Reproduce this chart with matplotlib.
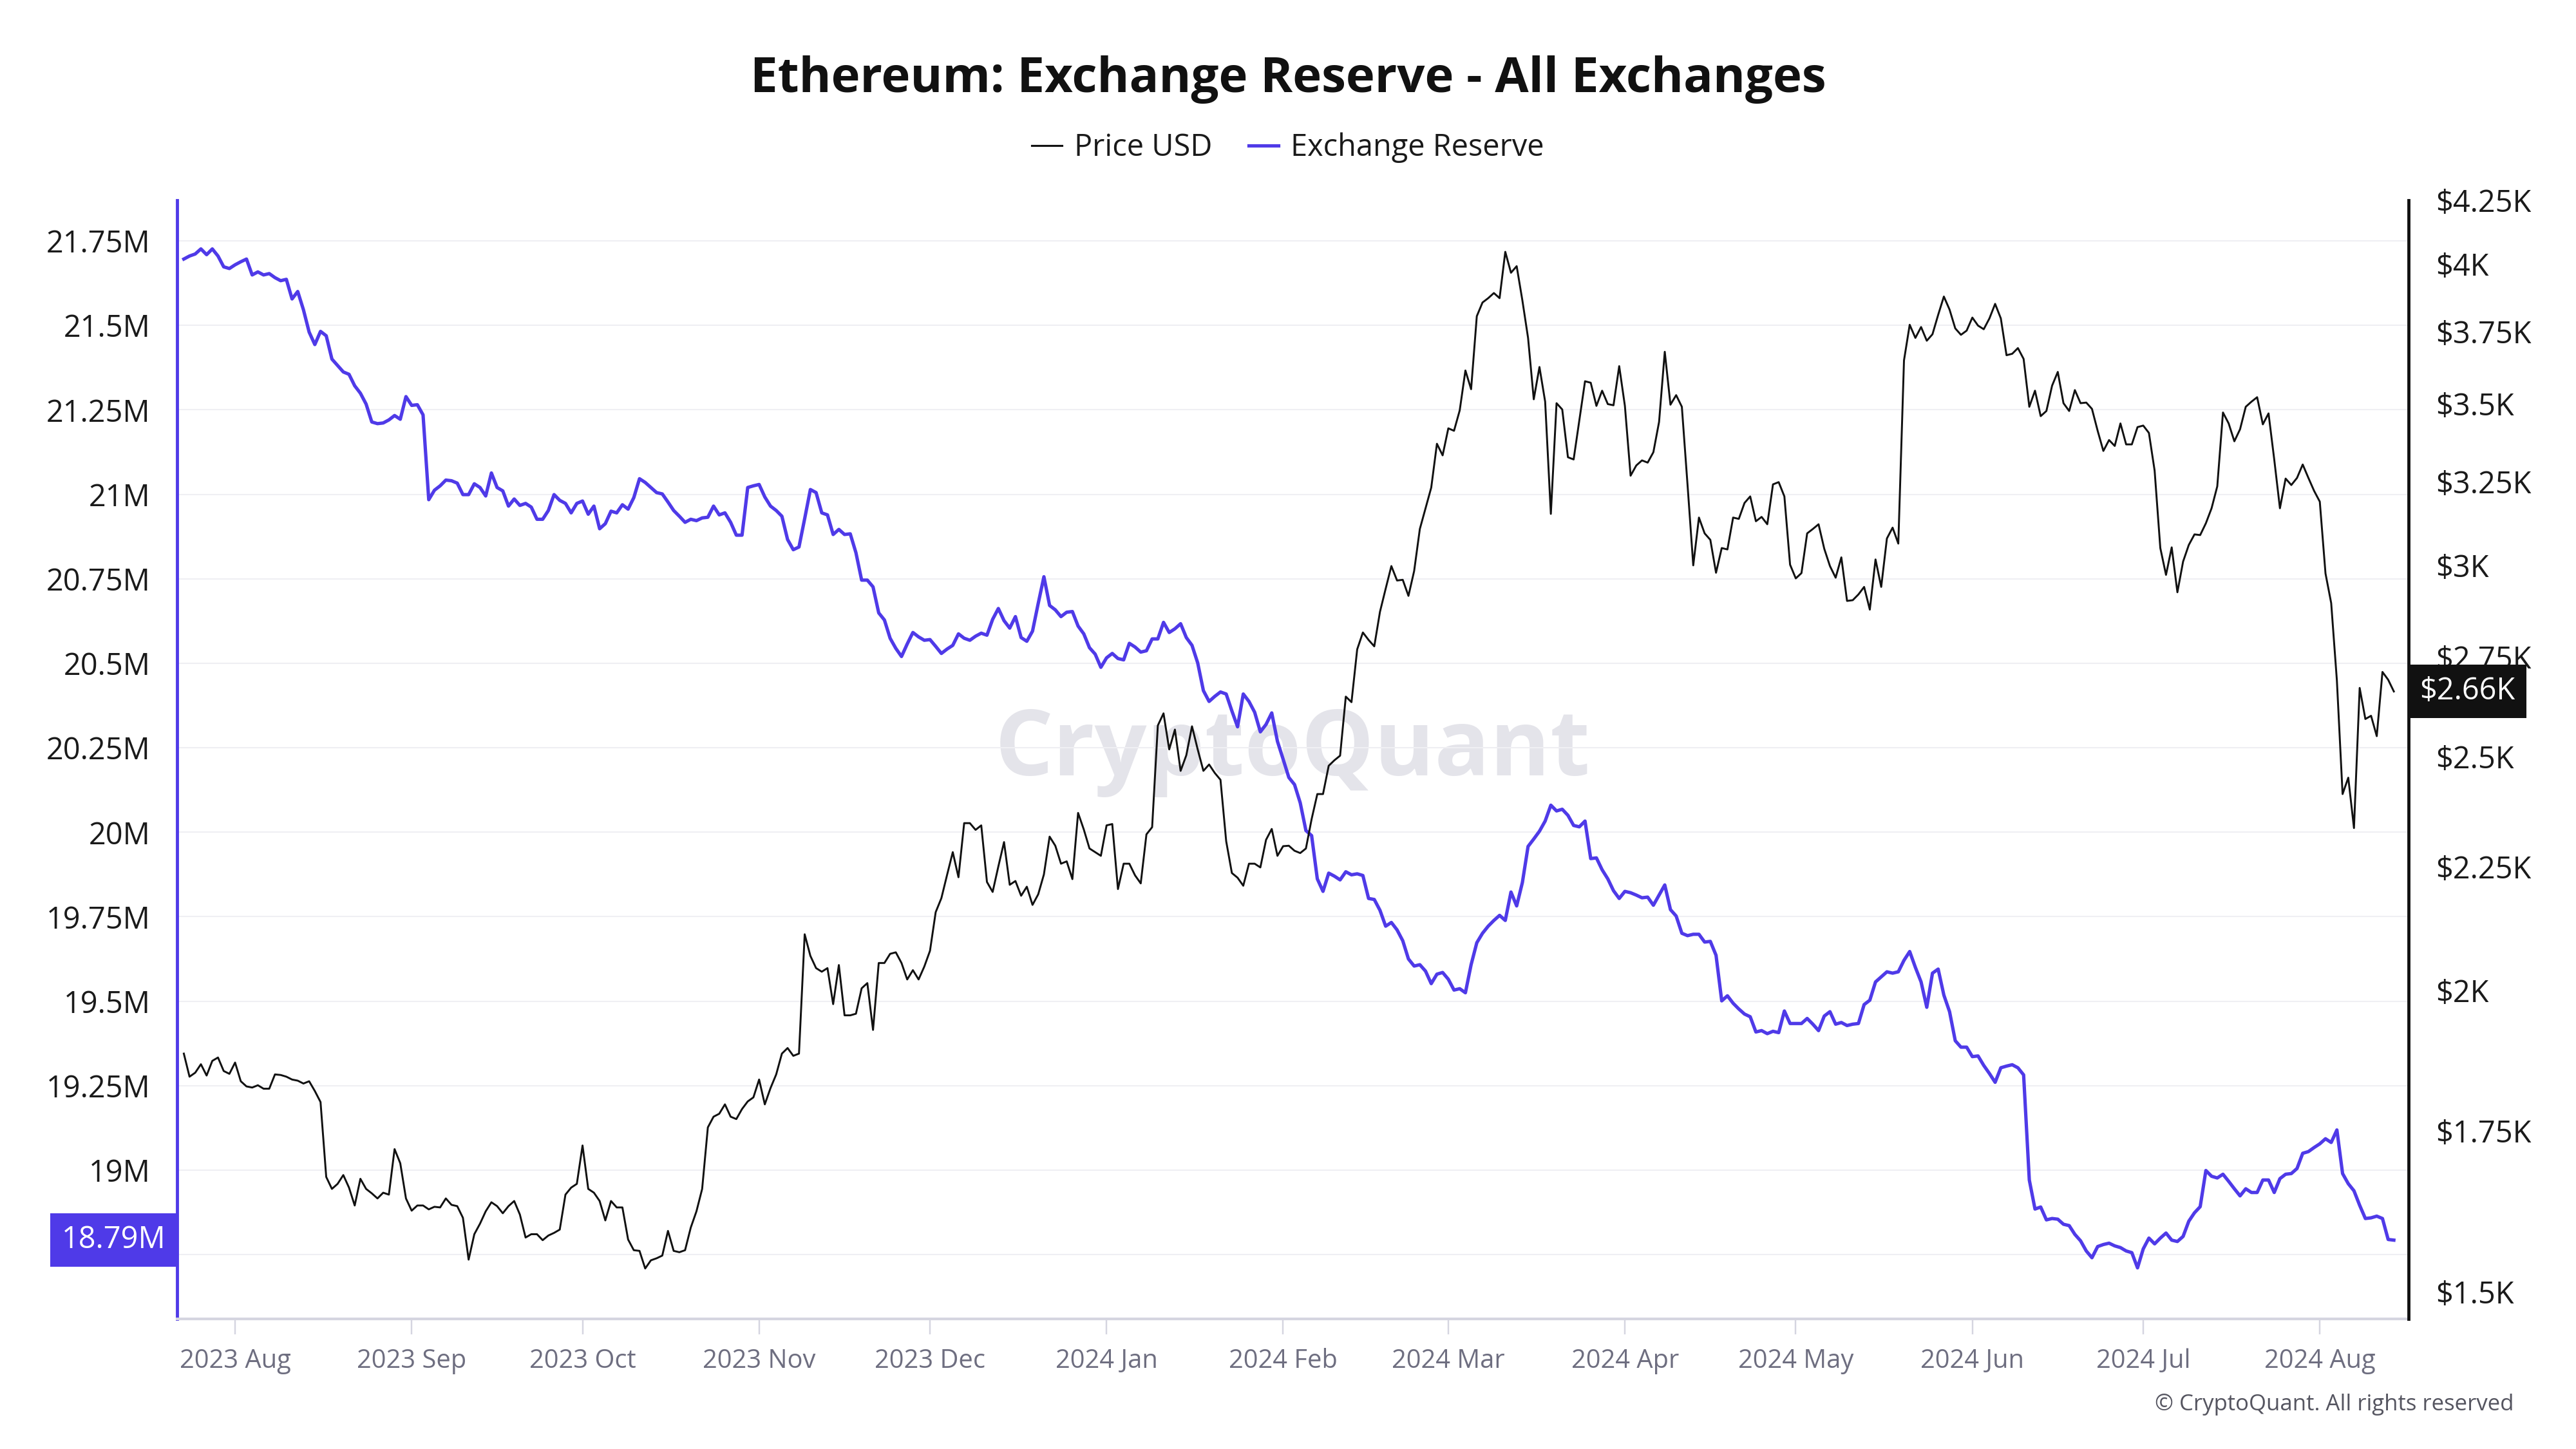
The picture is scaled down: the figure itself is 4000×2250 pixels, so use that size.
import matplotlib
matplotlib.use("Agg")
import matplotlib.pyplot as plt
import matplotlib.dates as mdates
import matplotlib.ticker as mticker
from matplotlib.lines import Line2D
import pandas as pd

plt.rcParams['font.family'] = ['Open Sans', 'DejaVu Sans']

# daily values, 2023-07-23 .. 2024-08-14
first_day = "2023-07-23"
last_day = "2024-08-14"

price_usd = [
    1883, 1842, 1849, 1864, 1844, 1870, 1876, 1852, 1847, 1867, 1834, 1825, 1823, 1827, 1821, 1821, 1846, 1845, 1842, 1837,
    1835, 1830, 1834, 1817, 1798, 1674, 1655, 1663, 1677, 1657, 1629, 1671, 1655, 1648, 1640, 1649, 1646, 1719, 1696, 1640,
    1621, 1629, 1629, 1623, 1627, 1626, 1640, 1630, 1628, 1610, 1547, 1585, 1601, 1620, 1634, 1628, 1617, 1628, 1636, 1615,
    1580, 1585, 1585, 1576, 1583, 1587, 1592, 1646, 1657,
    1663, 1725, 1655, 1649, 1636, 1606, 1636, 1626, 1626, 1577, 1561, 1560, 1534, 1546, 1549, 1553, 1590, 1560, 1558, 1561,
    1595, 1620, 1655, 1755, 1773, 1778, 1794, 1773, 1769, 1786, 1799, 1806, 1837, 1794, 1822, 1846, 1883, 1893, 1879, 1883,
    2110, 2067, 2043, 2036, 2043, 1974, 2049, 1953, 1953, 1956, 2004, 2014, 1926, 2053, 2053, 2071, 2074, 2053, 2021, 2039,
    2021, 2046, 2077, 2155, 2184, 2233, 2282, 2228,
    2346, 2346, 2331, 2341, 2218, 2197, 2251, 2304, 2212, 2220, 2189, 2208, 2170, 2192, 2234, 2316, 2296, 2257, 2262, 2224,
    2369, 2332, 2290, 2282, 2274, 2341, 2344, 2203, 2257, 2257, 2232, 2215, 2321, 2337, 2575, 2605, 2517, 2565, 2466, 2503,
    2573, 2517, 2466, 2481, 2461, 2445, 2306, 2237, 2227, 2210,
    2257, 2257, 2249, 2309, 2333, 2274, 2295, 2296, 2285, 2280, 2290, 2355, 2412, 2412, 2478, 2491, 2502, 2647, 2633, 2769,
    2814, 2794, 2777, 2870, 2934, 2998, 2957, 2959, 2914, 2984, 3106, 3168, 3231, 3369, 3332, 3419, 3411, 3478, 3613, 3549,
    3805, 3855, 3871, 3890, 3871, 4046, 3966, 3991, 3863, 3727, 3515,
    3625, 3507, 3151, 3502, 3481, 3326, 3319, 3445, 3576, 3571, 3493, 3544, 3499, 3495, 3628, 3493, 3268, 3300, 3316, 3309,
    3342, 3440, 3678, 3497, 3529, 3490, 3239, 3000, 3140, 3093, 3074, 2979, 3050, 3046, 3140, 3136, 3184, 3204, 3129, 3142,
    3120, 3241, 3248, 3204, 3002, 2963, 2978, 3093, 3106, 3120, 3048,
    2998, 2965, 3023, 2900, 2902, 2918, 2939, 2876, 3017, 2939, 3078, 3110, 3063, 3648, 3774, 3727, 3766, 3717, 3740, 3810,
    3877, 3829, 3761, 3738, 3753, 3800, 3771, 3758, 3797, 3850, 3797, 3666, 3671, 3691, 3653, 3490, 3544, 3459, 3476, 3561,
    3608, 3502, 3476, 3546, 3502, 3504, 3483, 3411, 3346, 3381, 3362,
    3435, 3367, 3367, 3423, 3428, 3404, 3284, 3050, 2973, 3052, 2924, 3011, 3059, 3090, 3088, 3123, 3168, 3235, 3471, 3435,
    3377, 3416, 3490, 3507, 3522, 3432, 3468, 3319, 3168, 3259, 3239, 3261, 3303, 3261, 3221, 3188, 2977, 2894, 2688, 2412,
    2450, 2335, 2669, 2591, 2599, 2549, 2710, 2690, 2660,
]

reserve_m = [
    21.696, 21.705, 21.711, 21.726, 21.709, 21.726, 21.705, 21.673, 21.668, 21.679, 21.688, 21.696, 21.649, 21.658, 21.649,
    21.653, 21.641, 21.632, 21.636, 21.578, 21.600, 21.546, 21.480, 21.443, 21.482, 21.469, 21.400, 21.381, 21.362, 21.355,
    21.321, 21.299, 21.267, 21.214, 21.209, 21.211, 21.220, 21.233, 21.222, 21.289, 21.263, 21.265, 21.235, 20.984, 21.012,
    21.025, 21.042, 21.040, 21.033, 20.999, 20.999, 21.031, 21.020, 20.995, 21.063, 21.020, 21.010, 20.965, 20.986, 20.967,
    20.973, 20.962, 20.926, 20.926, 20.952, 20.999, 20.982, 20.973, 20.945,
    20.973, 20.980, 20.941, 20.965, 20.898, 20.913, 20.950, 20.945, 20.969, 20.956, 20.990, 21.046, 21.035, 21.020, 21.005,
    21.001, 20.977, 20.952, 20.935, 20.917, 20.926, 20.922, 20.930, 20.932, 20.965, 20.939, 20.945, 20.917, 20.879, 20.879,
    21.020, 21.025, 21.029, 20.992, 20.965, 20.952, 20.935, 20.866, 20.836, 20.844, 20.928, 21.014, 21.005, 20.945, 20.939,
    20.881, 20.896, 20.881, 20.883, 20.827, 20.746, 20.746, 20.726, 20.649, 20.628, 20.574, 20.544, 20.520, 20.557, 20.591,
    20.578, 20.568, 20.570, 20.550, 20.529, 20.542, 20.553, 20.587,
    20.574, 20.568, 20.580, 20.589, 20.583, 20.630, 20.662, 20.626, 20.604, 20.638, 20.576, 20.565, 20.595, 20.677, 20.756,
    20.671, 20.658, 20.638, 20.651, 20.653, 20.610, 20.587, 20.546, 20.527, 20.488, 20.516, 20.529, 20.514, 20.510, 20.559,
    20.548, 20.533, 20.537, 20.572, 20.572, 20.621, 20.591, 20.602, 20.617, 20.576, 20.553, 20.501, 20.419, 20.387, 20.402,
    20.415, 20.409, 20.359, 20.312, 20.409,
    20.387, 20.355, 20.297, 20.319, 20.353, 20.269, 20.216, 20.162, 20.141, 20.087, 20.005, 19.990, 19.862, 19.825, 19.879,
    19.870, 19.859, 19.883, 19.874, 19.877, 19.872, 19.804, 19.801, 19.769, 19.722, 19.733, 19.711, 19.679, 19.625, 19.604,
    19.608, 19.589, 19.552, 19.580, 19.585, 19.565, 19.533, 19.537, 19.525, 19.608, 19.673, 19.701, 19.722, 19.739, 19.754,
    19.739, 19.823, 19.782, 19.851, 19.958, 19.980,
    20.003, 20.033, 20.080, 20.063, 20.068, 20.050, 20.020, 20.016, 20.033, 19.922, 19.924, 19.889, 19.862, 19.827, 19.804,
    19.825, 19.821, 19.814, 19.806, 19.808, 19.784, 19.814, 19.844, 19.771, 19.752, 19.701, 19.694, 19.698, 19.698, 19.675,
    19.677, 19.636, 19.501, 19.516, 19.494, 19.477, 19.462, 19.454, 19.409, 19.413, 19.404, 19.411, 19.407, 19.471, 19.434,
    19.434, 19.434, 19.449, 19.432, 19.413, 19.456,
    19.469, 19.432, 19.437, 19.428, 19.432, 19.434, 19.490, 19.503, 19.557, 19.572, 19.587, 19.583, 19.587, 19.621, 19.647,
    19.600, 19.557, 19.482, 19.583, 19.595, 19.518, 19.469, 19.383, 19.364, 19.364, 19.336, 19.338, 19.310, 19.286, 19.260,
    19.303, 19.308, 19.312, 19.303, 19.282, 18.971, 18.885, 18.891, 18.853, 18.857, 18.855, 18.840, 18.836, 18.810, 18.791,
    18.761, 18.741, 18.774, 18.780, 18.784, 18.776,
    18.771, 18.761, 18.756, 18.711, 18.767, 18.799, 18.782, 18.799, 18.814, 18.793, 18.789, 18.804, 18.849, 18.874, 18.892,
    18.999, 18.982, 18.977, 18.988, 18.967, 18.945, 18.924, 18.945, 18.934, 18.934, 18.971, 18.971, 18.934, 18.975, 18.988,
    18.990, 19.005, 19.050, 19.055, 19.067, 19.078, 19.093, 19.082, 19.119, 18.990, 18.960, 18.939, 18.896, 18.857, 18.859,
    18.864, 18.857, 18.795, 18.793,
]

reserve_ticks = [18.75, 19.0, 19.25, 19.5, 19.75, 20.0, 20.25, 20.5, 20.75, 21.0, 21.25, 21.5, 21.75]
price_ticks = [1500, 1750, 2000, 2250, 2500, 2750, 3000, 3250, 3500, 3750, 4000, 4250]

PURPLE = "#4f3ae8"
BLACK = "#111111"

dates = pd.date_range(first_day, last_day, freq="D")

fig = plt.figure(figsize=(16, 9), dpi=250)
ax = fig.add_axes([0.06875, 0.0898, 0.86625, 0.772])
ax2 = ax.twinx()

# watermark
ax.text(0.5, 0.507, "CryptoQuant", transform=ax.transAxes, ha="center", va="center",
        fontsize=41, fontweight="bold", color="#e4e4ea", zorder=0)

ax.plot(dates, reserve_m, color=PURPLE, lw=1.5, zorder=3)
ax2.plot(dates, price_usd, color=BLACK, lw=0.85, zorder=3)

ax.set_xlim(pd.Timestamp("2023-07-21 19:40"), pd.Timestamp("2024-08-16 14:00"))
ax.set_ylim(18.56, 21.87)
ax2.set_yscale("log")
ax2.set_ylim(1462, 4244)


def reserve_fmt(v, p):
    # lowest label sits under the last-value box
    if v < 18.8:
        return ""
    return f"{v:g}M"


ax.set_yticks(reserve_ticks)
ax.yaxis.set_major_formatter(mticker.FuncFormatter(reserve_fmt))
ax2.set_yticks(price_ticks)
ax2.yaxis.set_minor_locator(mticker.NullLocator())
ax2.yaxis.set_major_formatter(mticker.FuncFormatter(lambda v, p: f"${v / 1000:g}K"))

ax.xaxis.set_major_locator(mdates.MonthLocator())
ax.xaxis.set_major_formatter(mdates.DateFormatter("%Y %b"))

ax.grid(axis="y", color="#efeff3", lw=0.6)
ax.set_axisbelow(True)

ax.tick_params(axis="y", length=0, pad=12, labelsize=13.5, labelcolor="#1a1a1a")
ax2.tick_params(axis="y", length=0, pad=12, labelsize=13.5, labelcolor="#1a1a1a")
ax.tick_params(axis="x", length=7, width=0.7, color="#d5d5e0", pad=6, labelsize=11.5, labelcolor="#6e6e80")

for s in ["top", "right"]:
    ax.spines[s].set_visible(False)
ax.spines["left"].set_color(PURPLE)
ax.spines["left"].set_linewidth(1.4)
ax.spines["bottom"].set_color("#d5d5e0")
ax.spines["bottom"].set_linewidth(1.2)
for s in ["top", "left", "bottom"]:
    ax2.spines[s].set_visible(False)
ax2.spines["right"].set_color(BLACK)
ax2.spines["right"].set_linewidth(1.4)

# last value markers
ax.annotate(f"{reserve_m[-1]:.2f}M", xy=(0, reserve_m[-1]), xycoords=ax.get_yaxis_transform(),
            xytext=(-5, 0), textcoords="offset points", ha="right", va="center",
            fontsize=13.5, color="white", zorder=10, annotation_clip=False,
            bbox=dict(boxstyle="square,pad=0.38", fc=PURPLE, ec="none"))
ax2.annotate(f"${price_usd[-1] / 1000:.2f}K", xy=(1, price_usd[-1]), xycoords=ax2.get_yaxis_transform(),
             xytext=(5, 0), textcoords="offset points", ha="left", va="center",
             fontsize=13.5, color="white", zorder=10, annotation_clip=False,
             bbox=dict(boxstyle="square,pad=0.38", fc=BLACK, ec="none"))

fig.text(0.5, 0.945, "Ethereum: Exchange Reserve - All Exchanges", ha="center", va="center",
         fontsize=21.9, fontweight="bold", color="#111111")

handles = [Line2D([], [], color=BLACK, lw=0.9), Line2D([], [], color=PURPLE, lw=1.5)]
fig.legend(handles, ["Price USD", "Exchange Reserve"], loc="center", bbox_to_anchor=(0.5, 0.898),
           ncol=2, frameon=False, fontsize=13.5, handlelength=1.0, handletextpad=0.4,
           columnspacing=1.2, labelcolor="#1a1a1a")

fig.text(0.9758, 0.0307, "\u00a9 CryptoQuant. All rights reserved", ha="right", va="center",
         fontsize=10, color="#555560")

fig.savefig("out.png", dpi=250)
